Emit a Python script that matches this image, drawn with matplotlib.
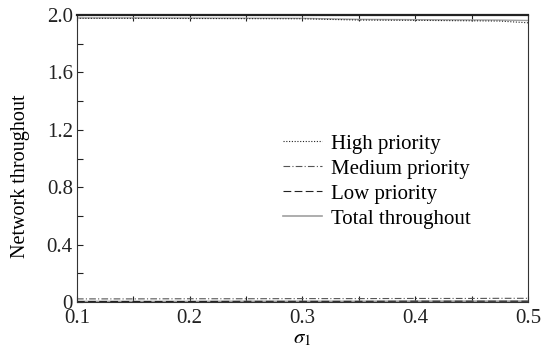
import matplotlib
matplotlib.use("Agg")
import matplotlib.pyplot as plt
from matplotlib.ticker import MultipleLocator

plt.rcParams['font.family'] = ['Liberation Serif', 'DejaVu Serif']
plt.rcParams['mathtext.fontset'] = 'stix'

sigma = [0.1, 0.15, 0.2, 0.25, 0.3, 0.35, 0.4, 0.45, 0.475, 0.5]
high = [1.977, 1.977, 1.976, 1.975, 1.974, 1.965, 1.963, 1.960, 1.958, 1.946]
medium = [0.022, 0.022, 0.023, 0.023, 0.024, 0.024, 0.025, 0.025, 0.026, 0.026]
low = [0.004, 0.004, 0.004, 0.005, 0.005, 0.005, 0.006, 0.006, 0.006, 0.006]
total = [1.980, 1.980, 1.979, 1.978, 1.977, 1.970, 1.968, 1.966, 1.965, 1.962]

labels = ['High priority', 'Medium priority', 'Low priority', 'Total throughout']

fig = plt.figure(figsize=(5.44, 3.5), dpi=100)
ax = fig.add_axes([0.1415, 0.137, 0.829, 0.82])

ax.plot(sigma, total, color='#a0a0a0', lw=1.0, ls='-')
ax.plot(sigma, low, color='#a0a0a0', lw=1.2, ls='-')
ax.plot(sigma, high, color='#222222', lw=0.8, ls=(0, (1, 1.5)), label=labels[0])
ax.plot(sigma, medium, color='#555555', lw=0.8, ls=(0, (6, 2, 1, 2)), label=labels[1])
ax.plot(sigma, low, color='#222222', lw=0.8, ls=(0, (7, 3)), label=labels[2])
ax.plot([], [], color='#a0a0a0', lw=1.2, ls='-', label=labels[3])

ax.set_xlim(0.1, 0.5)
ax.set_ylim(0, 2.0)
ax.set_xticks([0.1, 0.2, 0.3, 0.4, 0.5])
ax.set_xticklabels(['0.1', '0.2', '0.3', '0.4', '0.5'])
ax.set_yticks([0, 0.4, 0.8, 1.2, 1.6, 2.0])
ax.set_yticklabels(['0', '0.4', '0.8', '1.2', '1.6', '2.0'])
ax.xaxis.set_minor_locator(MultipleLocator(0.05))
ax.yaxis.set_minor_locator(MultipleLocator(0.2))
ax.tick_params(which='both', direction='in', top=True, right=False, labelsize=15, colors='#222222')
ax.tick_params(which='both', length=4, width=0.8)
ax.tick_params(axis='x', pad=5)
ax.tick_params(axis='y', pad=3)

for s in ['left', 'right', 'bottom']:
    ax.spines[s].set_linewidth(0.8)
    ax.spines[s].set_color('#333333')
ax.spines['top'].set_linewidth(1.6)
ax.spines['top'].set_color('#222222')

ax.set_ylabel('Network throughout', fontsize=14.5)
ax.yaxis.set_label_coords(-0.105, 0.44)
ax.set_xlabel(r'$\sigma_1$', fontsize=15, labelpad=1)

ax.legend(loc='upper left', bbox_to_anchor=(0.457, 0.585), frameon=False, fontsize=15,
          handlelength=1.85, handletextpad=0.45, labelspacing=0.26,
          borderpad=0, borderaxespad=0)

fig.savefig('out.png', dpi=100)
